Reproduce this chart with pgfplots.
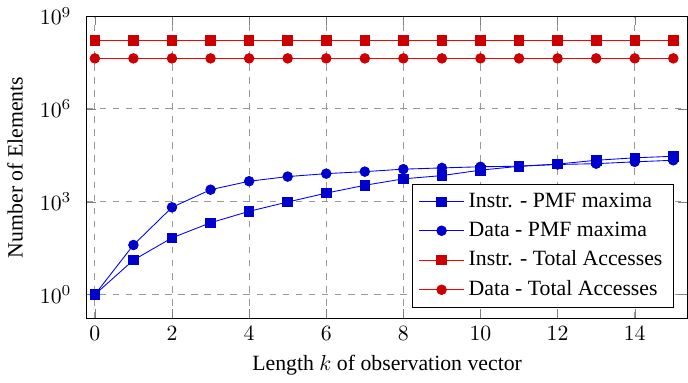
\documentclass[border=0pt]{standalone}
\usepackage{pgfplots}
\pgfplotsset{compat=1.18}
\usepackage{fontspec}
\setmainfont{Liberation Serif}
\begin{document}
\begin{tikzpicture}
\begin{axis}[
  scale only axis,
  width=276pt, height=139pt,
  ymode=log,
  xmin=-0.21, xmax=15.37,
  ymin=0.166, ymax=1e9,
  xtick={0,2,4,6,8,10,12,14},
  ytick={1,1e3,1e6,1e9},
  minor ytick={},
  grid=major,
  major grid style={dashed, gray!80, line width=0.4pt},
  tick align=inside,
  yticklabel style={xshift=-3.5pt},
  ylabel style={yshift=1pt},
  xlabel={Length $k$ of observation vector},
  ylabel={Number of Elements},
  legend cell align=left,
  legend style={at={(0.977,0.035)}, anchor=south east, row sep=1.2pt},
  legend image code/.code={\draw[mark repeat=2,mark phase=2,#1] plot coordinates {(0cm,0cm) (0.36cm,0cm) (0.72cm,0cm)};},
  mark size=2.2pt,
]
\addplot[blue, mark=square*, mark options={fill=blue!80!black, draw=blue!80!black}] coordinates {
(0,1) (1,13) (2,68) (3,209) (4,490) (5,980) (6,1900) (7,3400) (8,5500)
(9,7000) (10,10500) (11,14000) (12,16500) (13,21900) (14,26300) (15,29500)};
\addlegendentry{Instr. - PMF maxima}
\addplot[blue, mark=*, mark options={fill=blue!80!black, draw=blue!80!black}] coordinates {
(0,1) (1,40) (2,660) (3,2450) (4,4600) (5,6500) (6,8100) (7,9400) (8,11300)
(9,12400) (10,13500) (11,14100) (12,16000) (13,17000) (14,19500) (15,21900)};
\addlegendentry{Data - PMF maxima}
\addplot[red, mark=square*, mark options={fill=red!80!black, draw=red!80!black}] coordinates {
(0,1.66e8) (1,1.66e8) (2,1.66e8) (3,1.66e8) (4,1.66e8) (5,1.66e8) (6,1.66e8) (7,1.66e8)
(8,1.66e8) (9,1.66e8) (10,1.66e8) (11,1.66e8) (12,1.66e8) (13,1.66e8) (14,1.66e8) (15,1.66e8)};
\addlegendentry{Instr. - Total Accesses}
\addplot[red, mark=*, mark options={fill=red!80!black, draw=red!80!black}] coordinates {
(0,4.3e7) (1,4.3e7) (2,4.3e7) (3,4.3e7) (4,4.3e7) (5,4.3e7) (6,4.3e7) (7,4.3e7)
(8,4.3e7) (9,4.3e7) (10,4.3e7) (11,4.3e7) (12,4.3e7) (13,4.3e7) (14,4.3e7) (15,4.3e7)};
\addlegendentry{Data - Total Accesses}
\end{axis}
\end{tikzpicture}
\end{document}
